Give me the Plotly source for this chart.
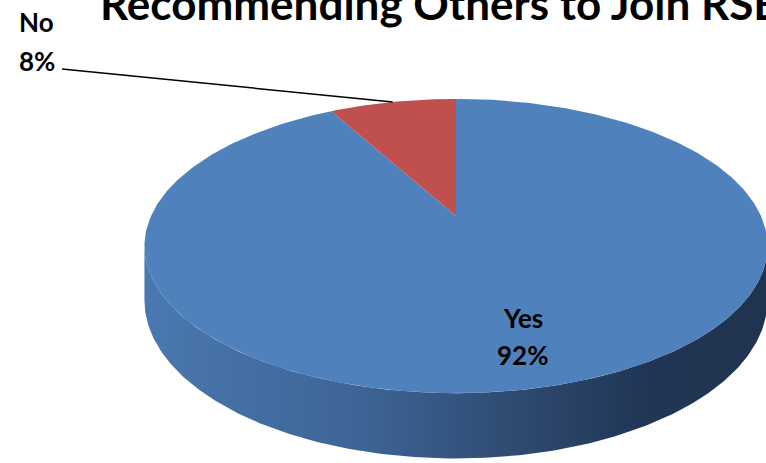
import numpy as np
import plotly.graph_objects as go

# Survey answers
labels = ["Yes", "No"]
percents = [92, 8]
slice_colors = ["#4f81bd", "#c0504d"]
title_text = "Recommending Others to Join RSB"

W, H = 766, 463

# Perspective-projected pie geometry (pixel space, y grows downward)
CX, CY = 456, 216      # projected centre of the pie top
RX, RY = 305, 141      # radii of the top face
K = 0.204              # perspective strength
DEPTH = 52             # thickness of the pie


def project(theta, r=1.0):
    """Point on the pie top at clockwise angle theta (0 = 12 o'clock)."""
    u = r * np.sin(theta)
    v = r * np.cos(theta)
    s = 1 + K * v
    return CX + RX * u / s, CY - RY * v / s, s


fig = go.Figure()

# Visible front wall of the pie (between the left and right silhouettes)
t_right = np.arccos(-K)
t_left = 2 * np.pi - t_right
ts = np.linspace(t_right, t_left, 240)
xt, yt, st = project(ts)
xb, yb = xt, yt + DEPTH / st
side_x = np.concatenate([xt, xb[::-1], xt[:1]])
side_y = np.concatenate([yt, yb[::-1], yt[:1]])
fig.add_trace(go.Scatter(
    x=side_x, y=side_y, mode="lines", fill="toself",
    line=dict(width=0), hoverinfo="skip",
    fillgradient=dict(
        type="horizontal",
        colorscale=[[0, "#4a78b0"], [0.35, "#3d6495"], [0.6, "#2e4a70"],
                    [0.8, "#213655"], [1, "#20344f"]],
    ),
))

# Top face slices, clockwise from 12 o'clock
total = sum(percents)
start = 0.0
mids = []
for lab, pct, col in zip(labels, percents, slice_colors):
    f0, f1 = start / total, (start + pct) / total
    th = np.linspace(2 * np.pi * f0, 2 * np.pi * f1, max(8, int(400 * (f1 - f0))))
    ax_, ay_, _ = project(th)
    xs = np.concatenate([[CX], ax_, [CX]])
    ys = np.concatenate([[CY], ay_, [CY]])
    fig.add_trace(go.Scatter(
        x=xs, y=ys, mode="lines", fill="toself", fillcolor=col,
        line=dict(width=0), hoverinfo="skip",
    ))
    mids.append(np.pi * (f0 + f1))
    start += pct

label_font = dict(family="Lato", size=26, color="#000000", weight="bold")

# Inside label for the large slice
lx, ly, _ = project(mids[0], 0.75)
fig.add_annotation(x=lx, y=ly - 18, text=labels[0], showarrow=False,
                   font=label_font, xanchor="center", yanchor="middle")
fig.add_annotation(x=lx, y=ly + 19, text=f"{percents[0]}%", showarrow=False,
                   font=label_font, xanchor="center", yanchor="middle")

# Outside label with leader line for the small slice
nx, ny, _ = project(mids[1], 1.0)
fig.add_shape(type="line", x0=62, y0=69, x1=nx, y1=ny,
              line=dict(color="#000000", width=1.5))
fig.add_annotation(x=17, y=22, text=labels[1], showarrow=False,
                   font=label_font, xanchor="left", yanchor="middle")
fig.add_annotation(x=17, y=61, text=f"{percents[1]}%", showarrow=False,
                   font=label_font, xanchor="left", yanchor="middle")

# Chart title (runs past the top and right edges of the canvas)
fig.add_annotation(x=98, y=3, text=title_text, showarrow=False,
                   font=dict(family="Lato", size=44, color="#000000", weight="bold"),
                   xanchor="left", yanchor="middle")

fig.update_layout(
    width=W, height=H, autosize=False,
    margin=dict(l=0, r=0, t=0, b=0),
    paper_bgcolor="white", plot_bgcolor="white",
    showlegend=False,
    xaxis=dict(range=[0, W], visible=False, fixedrange=True),
    yaxis=dict(range=[H, 0], visible=False, fixedrange=True),
)

fig.write_html("out.html")
